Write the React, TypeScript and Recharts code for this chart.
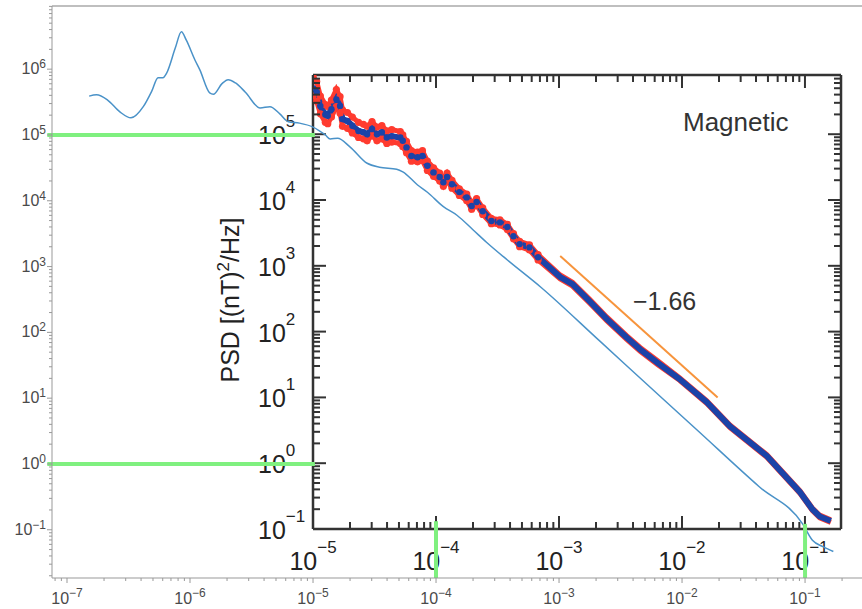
import React from "react";
import { LineChart, Line, XAxis, YAxis, ReferenceLine } from "recharts";

// ─── Data (log10 values) ──────────────────────────────────────────────────────
// broadband spectrum, light blue (outer panel)
const fullLogF = [-6.82, -6.76, -6.67, -6.57, -6.48, -6.38, -6.31, -6.26, -6.22, -6.19, -6.12, -6.07, -6.03, -5.96, -5.92, -5.84, -5.81, -5.74, -5.69, -5.63, -5.55, -5.43, -5.35, -5.27, -5.2, -5.11, -5.0, -4.9, -4.86, -4.8, -4.7, -4.56, -4.46, -4.32, -4.27, -4.15, -4.07, -3.94, -3.83, -3.7, -3.59, -3.42, -3.15, -2.67, -2.15, -1.88, -1.37, -1.02, -0.94, -0.85, -0.77];
const fullLogPsd = [5.59, 5.61, 5.53, 5.35, 5.26, 5.43, 5.67, 5.87, 5.87, 5.94, 6.32, 6.57, 6.44, 6.14, 5.99, 5.64, 5.62, 5.78, 5.84, 5.79, 5.65, 5.41, 5.43, 5.32, 5.2, 5.18, 5.12, 5.0, 4.94, 4.95, 4.82, 4.57, 4.51, 4.48, 4.44, 4.24, 4.13, 3.91, 3.78, 3.56, 3.37, 3.1, 2.69, 1.87, 0.98, 0.52, -0.35, -0.91, -1.16, -1.26, -1.33];

// magnetic spectrum (inset): mean (blue) and bounds (red)
const magLogF = [-5.0, -4.97, -4.94, -4.9, -4.88, -4.85, -4.81, -4.78, -4.76, -4.72, -4.68, -4.63, -4.59, -4.56, -4.52, -4.48, -4.44, -4.4, -4.36, -4.29, -4.27, -4.24, -4.2, -4.15, -4.11, -4.07, -4.02, -3.97, -3.94, -3.91, -3.87, -3.81, -3.75, -3.71, -3.67, -3.62, -3.55, -3.48, -3.42, -3.37, -3.32, -3.24, -3.17, -2.99, -2.89, -2.75, -2.61, -2.45, -2.34, -2.2, -2.02, -1.8, -1.61, -1.31, -1.04, -0.94, -0.88, -0.79];
const magLogPsd = [5.7, 5.64, 5.43, 5.3, 5.28, 5.38, 5.53, 5.43, 5.23, 5.2, 5.13, 5.05, 5.03, 5.0, 5.08, 5.0, 5.03, 4.95, 4.97, 4.95, 4.9, 4.8, 4.67, 4.65, 4.67, 4.52, 4.42, 4.35, 4.27, 4.35, 4.24, 4.12, 4.04, 3.91, 3.97, 3.83, 3.68, 3.66, 3.59, 3.45, 3.33, 3.28, 3.13, 2.83, 2.72, 2.46, 2.19, 1.91, 1.73, 1.53, 1.28, 0.93, 0.56, 0.11, -0.44, -0.7, -0.81, -0.88];
const magUpper = [5.88, 5.8, 5.58, 5.45, 5.42, 5.52, 5.68, 5.57, 5.37, 5.33, 5.26, 5.18, 5.15, 5.12, 5.19, 5.11, 5.13, 5.05, 5.07, 5.04, 4.99, 4.89, 4.75, 4.73, 4.75, 4.59, 4.49, 4.41, 4.33, 4.41, 4.3, 4.17, 4.09, 3.96, 4.02, 3.88, 3.72, 3.7, 3.63, 3.49, 3.37, 3.32, 3.17, 2.86, 2.75, 2.49, 2.22, 1.94, 1.76, 1.56, 1.3, 0.95, 0.58, 0.13, -0.42, -0.68, -0.79, -0.86];
const magLower = [5.58, 5.5, 5.31, 5.18, 5.16, 5.26, 5.42, 5.32, 5.12, 5.09, 5.02, 4.95, 4.93, 4.9, 4.98, 4.9, 4.93, 4.86, 4.88, 4.86, 4.81, 4.72, 4.59, 4.58, 4.6, 4.45, 4.36, 4.29, 4.21, 4.29, 4.18, 4.07, 3.99, 3.86, 3.92, 3.78, 3.64, 3.62, 3.55, 3.41, 3.29, 3.24, 3.09, 2.8, 2.69, 2.43, 2.16, 1.88, 1.7, 1.5, 1.26, 0.91, 0.54, 0.09, -0.46, -0.72, -0.83, -0.9];

// fitted slope line
const fitLogF = [-2.99, -1.71];
const fitLogPsd = [3.15, 1.0];
const slopeLabel = "\u22121.66";

// green guide lines linking the two panels
const guideLogPsd = [5, 0];
const guideLogF = [-4, -1];
const guideTopLogPsd = [-0.87, -0.91];

// axis extents (log10)
const OUTER_X = [-7.122, -0.537];
const OUTER_Y = [-1.733, 6.96];
const INNER_X = [-5, -0.707];
const INNER_Y = [-1, 5.9];

const MINOR = [1, 2, 3, 4, 5, 6, 7, 8, 9];

// ─── Helpers ──────────────────────────────────────────────────────────────────
const toPoints = (lf: number[], lp: number[]) =>
  lf.map((f, i) => ({ f: 10 ** f, p: 10 ** lp[i] }));

const logTicks = ([lo, hi]: number[]) => {
  const out: number[] = [];
  for (let e = Math.floor(lo); e <= Math.ceil(hi); e++) {
    for (const m of MINOR) {
      const l = Math.log10(m) + e;
      if (l >= lo - 1e-9 && l <= hi + 1e-9) out.push(m * 10 ** e);
    }
  }
  return out;
};

const isDecade = (v: number) => Math.abs(Math.log10(v) - Math.round(Math.log10(v))) < 1e-6;
const expText = (v: number) => {
  const e = Math.round(Math.log10(v));
  return e < 0 ? "\u2212" + Math.abs(e) : String(e);
};

const fullData = toPoints(fullLogF, fullLogPsd);
const magData = toPoints(magLogF, magLogPsd);
const upperData = toPoints(magLogF, magUpper);
const lowerData = toPoints(magLogF, magLower);
const fitData = toPoints(fitLogF, fitLogPsd);

const SANS = "'Liberation Sans', Arial, Helvetica, sans-serif";
const W = 862;
const H = 609;

// inset plot box in page pixels
const IN_LEFT = 313;
const IN_RIGHT = 841;
const IN_TOP = 75;
const IN_BOTTOM = 529;

const RED = "#ff3b2f";
const BLUE = "#1b43a8";

// markers are only distinguishable in the low-frequency part
const DOT_LAST = 42;
const makeDot = (r: number, fill: string) => (props: any) =>
  props.index <= DOT_LAST ? (
    <circle key={props.index} cx={props.cx} cy={props.cy} r={r} fill={fill} />
  ) : (
    <g key={props.index} />
  );

// ─── Outer ticks ──────────────────────────────────────────────────────────────
const OuterXTick = ({ x, y, payload }: any) => {
  const major = isDecade(payload.value);
  return (
    <g>
      <line x1={x} x2={x} y1={y} y2={y + (major ? 5 : 3)} stroke="#999" />
      {major && (
        <text x={x} y={y + 26} textAnchor="middle" fill="#4a4a4a" fontSize={16} fontFamily={SANS}>
          10<tspan dy={-7} fontSize={12}>{expText(payload.value)}</tspan>
        </text>
      )}
    </g>
  );
};

const OuterYTick = ({ x, y, payload }: any) => {
  const major = isDecade(payload.value);
  return (
    <g>
      <line x1={x} x2={x - (major ? 5 : 3)} y1={y} y2={y} stroke="#999" />
      {major && (
        <text x={x - 6} y={y + 5} textAnchor="end" fill="#4a4a4a" fontSize={16} fontFamily={SANS}>
          10<tspan dy={-6} fontSize={12}>{expText(payload.value)}</tspan>
        </text>
      )}
    </g>
  );
};

// ─── Inset ticks (drawn inward on all four sides) ─────────────────────────────
const InnerXTick = ({ x, y, payload }: any) => {
  const major = isDecade(payload.value);
  const len = major ? 13 : 7;
  return (
    <g>
      <line x1={x} x2={x} y1={y} y2={y - len} stroke="#333" strokeWidth={2} />
      <line x1={x} x2={x} y1={IN_TOP} y2={IN_TOP + len} stroke="#333" strokeWidth={2} />
      {major && (
        <text x={x} y={y + 41} textAnchor="middle" fill="#222" fontSize={25} fontFamily={SANS}>
          10<tspan dy={-17} fontSize={17}>{expText(payload.value)}</tspan>
        </text>
      )}
    </g>
  );
};

const InnerYTick = ({ x, y, payload }: any) => {
  const major = isDecade(payload.value);
  const len = major ? 13 : 7;
  return (
    <g>
      <line x1={x} x2={x + len} y1={y} y2={y} stroke="#333" strokeWidth={2} />
      <line x1={IN_RIGHT} x2={IN_RIGHT - len} y1={y} y2={y} stroke="#333" strokeWidth={2} />
      {major && (
        <text x={x - 55} y={y + 10} textAnchor="start" fill="#222" fontSize={25} fontFamily={SANS}>
          10<tspan dy={-17} fontSize={17}>{expText(payload.value)}</tspan>
        </text>
      )}
    </g>
  );
};

const dom = ([a, b]: number[]) => [10 ** a, 10 ** b];

// ─── Component ────────────────────────────────────────────────────────────────
export default function App() {
  const layer: React.CSSProperties = { position: "absolute", left: 0, top: 0 };
  return (
    <div style={{ position: "absolute", left: 0, top: 0, width: W, height: H, background: "#fff" }}>
      {/* inset panel */}
      <div style={layer}>
        <LineChart
          width={W}
          height={H}
          margin={{ top: IN_TOP, right: W - IN_RIGHT, bottom: 0, left: 0 }}
        >
          <XAxis
            type="number"
            dataKey="f"
            scale="log"
            domain={dom(INNER_X)}
            allowDataOverflow
            ticks={logTicks(INNER_X)}
            interval={0}
            height={H - IN_BOTTOM}
            tickSize={0}
            tickMargin={0}
            tickLine={false}
            axisLine={{ stroke: "#333", strokeWidth: 2.5 }}
            tick={<InnerXTick />}
          />
          <YAxis
            type="number"
            scale="log"
            domain={dom(INNER_Y)}
            allowDataOverflow
            ticks={logTicks(INNER_Y)}
            interval={0}
            width={IN_LEFT}
            tickSize={0}
            tickMargin={0}
            tickLine={false}
            axisLine={{ stroke: "#333", strokeWidth: 2.5 }}
            tick={<InnerYTick />}
          />
          <ReferenceLine y={10 ** INNER_Y[1]} stroke="#333" strokeWidth={2.5} />
          <ReferenceLine x={10 ** INNER_X[1]} stroke="#333" strokeWidth={2.5} />
          <Line
            data={upperData}
            dataKey="p"
            stroke={RED}
            strokeWidth={5}
            dot={makeDot(3.6, RED)}
            isAnimationActive={false}
          />
          <Line
            data={lowerData}
            dataKey="p"
            stroke={RED}
            strokeWidth={5}
            dot={makeDot(3.6, RED)}
            isAnimationActive={false}
          />
          <Line
            data={magData}
            dataKey="p"
            stroke={BLUE}
            strokeWidth={6}
            dot={makeDot(3.2, BLUE)}
            isAnimationActive={false}
          />
          <Line
            data={fitData}
            dataKey="p"
            stroke="#f7943c"
            strokeWidth={2}
            dot={false}
            isAnimationActive={false}
          />
        </LineChart>
      </div>

      {/* outer panel */}
      <div style={layer}>
        <LineChart width={W} height={H} margin={{ top: 6, right: 0, bottom: 0, left: 0 }}>
          <XAxis
            type="number"
            dataKey="f"
            scale="log"
            domain={dom(OUTER_X)}
            allowDataOverflow
            ticks={logTicks(OUTER_X)}
            interval={0}
            height={31}
            tickSize={0}
            tickMargin={0}
            tickLine={false}
            axisLine={{ stroke: "#999" }}
            tick={<OuterXTick />}
          />
          <YAxis
            type="number"
            scale="log"
            domain={dom(OUTER_Y)}
            allowDataOverflow
            ticks={logTicks(OUTER_Y)}
            interval={0}
            width={52}
            tickSize={0}
            tickMargin={0}
            tickLine={false}
            axisLine={{ stroke: "#999" }}
            tick={<OuterYTick />}
          />
          <ReferenceLine y={10 ** OUTER_Y[1]} stroke="#aaa" strokeWidth={1.5} />
          <Line
            data={fullData}
            dataKey="p"
            type="monotone"
            stroke="#4a92c8"
            strokeWidth={1.5}
            dot={false}
            isAnimationActive={false}
          />
          {guideLogPsd.map((lp) => (
            <ReferenceLine
              key={"h" + lp}
              ifOverflow="visible"
              segment={[
                { x: 10 ** -7.16, y: 10 ** lp },
                { x: 10 ** -4.985, y: 10 ** lp },
              ]}
              stroke="#7ff07f"
              strokeWidth={4}
            />
          ))}
          {guideLogF.map((lf, i) => (
            <ReferenceLine
              key={"v" + lf}
              ifOverflow="visible"
              segment={[
                { x: 10 ** lf, y: 10 ** guideTopLogPsd[i] },
                { x: 10 ** lf, y: 10 ** OUTER_Y[0] },
              ]}
              stroke="#7ff07f"
              strokeWidth={4}
            />
          ))}
        </LineChart>
      </div>

      {/* annotations */}
      <svg width={W} height={H} style={{ ...layer, pointerEvents: "none" }}>
        <text x={683} y={131} fontSize={26} fill="#333" fontFamily={SANS}>
          Magnetic
        </text>
        <text x={633} y={310} fontSize={25} fill="#333" fontFamily={SANS}>
          {slopeLabel}
        </text>
        <text
          x={239}
          y={300}
          transform="rotate(-90 239 300)"
          textAnchor="middle"
          fontSize={25}
          fill="#222"
          fontFamily={SANS}
        >
          PSD [(nT)<tspan dy={-10} fontSize={17}>2</tspan>
          <tspan dy={10}>/Hz]</tspan>
        </text>
      </svg>
    </div>
  );
}
